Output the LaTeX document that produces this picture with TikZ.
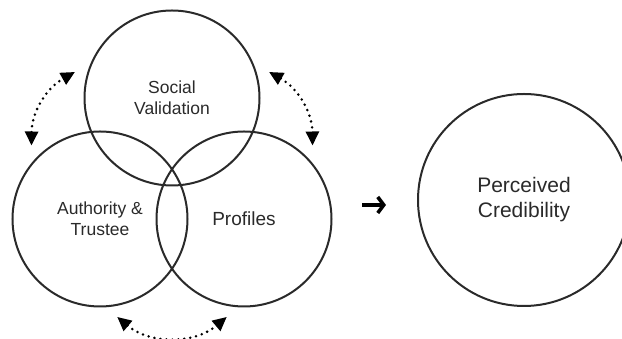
\documentclass[tikz,border=0pt]{standalone}
\usepackage{fontspec}
\setmainfont{Liberation Sans}
\usetikzlibrary{arrows.meta}
\definecolor{ink}{HTML}{2A2A2A}

\begin{document}
\begin{tikzpicture}[x=1pt, y=1pt,
                    set node/.style={circle, draw=ink, line width=2pt, text=ink,
                        minimum size=175pt, inner sep=0pt, align=center,
                        font=\fontsize{17.5}{20.5}\selectfont},
                    big node/.style={set node, minimum size=212pt,
                        font=\fontsize{21}{25}\selectfont},
                    dots/.style={line width=2.8pt, line cap=round, dash pattern=on 0pt off 6pt,
                        {Triangle[length=14pt,width=13pt]}-{Triangle[length=14pt,width=13pt]}}]
    \useasboundingbox (0,0) rectangle (622,339);

    \node[set node] (social)    at (172,241) {Social\\Validation};
    \node[set node] (authority) at (100,120) {Authority \&\\Trustee};
    \node[set node, font=\fontsize{19}{22}\selectfont] (profiles) at (244,120) {Profiles};
    \node[big node] (credibility) at (524,139) {Perceived\\Credibility};

    % free arrow between the sets and the outcome
    \coordinate (arrowtail) at (362,134);
    \coordinate (arrowtip)  at (386,134);
    \draw[black, line width=3.6pt, -{Straight Barb[length=6pt,width=16pt]}] (arrowtail) -- (arrowtip);

    \path[dots]
    ([shift={(133:12)}]authority.133) edge[bend left=30]  ([shift={(165:12)}]social.165)
    ([shift={(15:12)}]social.15)      edge[bend left=30]  ([shift={(47:12)}]profiles.47)
    ([shift={(-80:11)}]authority.-80) edge[bend right=40] ([shift={(-100:11)}]profiles.-100);
\end{tikzpicture}
\end{document}
